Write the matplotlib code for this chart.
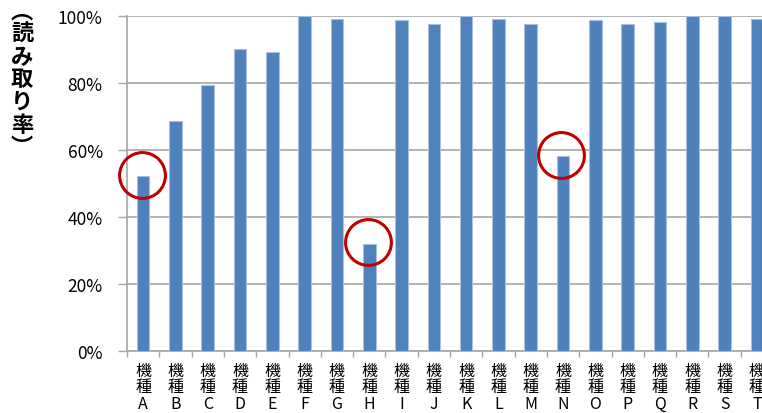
import matplotlib
matplotlib.use("Agg")
import matplotlib.pyplot as plt
from matplotlib.ticker import FixedLocator, NullFormatter

plt.rcParams['font.family'] = ['Noto Sans CJK JP', 'DejaVu Sans']

# Read rate (%) per device model
models = list("ABCDEFGHIJKLMNOPQRST")
read_rate = [52, 68.5, 79.2, 90.1, 89.1, 100, 99.0, 32, 98.6, 97.4,
             100, 99.0, 97.4, 58, 98.6, 97.4, 98.2, 100, 100, 99.0]
highlighted = ["A", "H", "N"]
y_ticks = [0, 20, 40, 60, 80, 100]
tick_labels = ["機\n種\n" + m for m in models]
y_label = "︵読み取り率︶"

W, H = 762, 414
fig = plt.figure(figsize=(W / 100, H / 100), dpi=100)
left, right, top, bottom = 127, 773, 16.7, 351.7
ax = fig.add_axes([left / W, 1 - bottom / H, (right - left) / W, (bottom - top) / H])

x = list(range(len(models)))
ax.bar(x, read_rate, width=0.39, color="#4F81BD", edgecolor="#A7C0E0",
       linewidth=0.8, zorder=3)

ax.set_xlim(-0.5, len(models) - 0.5)
ax.set_ylim(0, 100)

grid_c = "#A6A6A6"
ax.set_yticks(y_ticks)
ax.set_yticklabels([f"{v}%" for v in y_ticks])
ax.yaxis.grid(True, color=grid_c, linewidth=1.2, zorder=0)
ax.set_axisbelow(True)

# category boundaries carry the tick marks, centers carry the labels
ax.xaxis.set_major_locator(FixedLocator([i - 0.5 for i in range(len(models) + 1)]))
ax.xaxis.set_major_formatter(NullFormatter())
ax.xaxis.set_minor_locator(FixedLocator(x))
ax.set_xticklabels(tick_labels, minor=True, fontsize=11.5, linespacing=0.95,
                   va="top")
ax.tick_params(axis="x", which="major", length=4.5, width=1, color=grid_c,
               direction="out")
ax.tick_params(axis="x", which="minor", length=0, pad=8)
ax.tick_params(axis="y", length=6.5, width=1, color=grid_c, pad=11,
               labelsize=12.5)

for side in ("top", "right"):
    ax.spines[side].set_visible(False)
for side in ("left", "bottom"):
    ax.spines[side].set_color(grid_c)
    ax.spines[side].set_linewidth(1.2)

# red rings around the low-scoring models
for m in highlighted:
    i = models.index(m)
    ax.plot(i - 0.05, read_rate[i] + 0.3, "o", ms=33, mfc="none",
            mec="#C00000", mew=2.2, zorder=5, clip_on=False)

fig.text(22 / W, 1 - 80 / H, "\n".join(y_label), fontsize=16, fontweight="bold",
         ha="center", va="center", linespacing=0.98)

fig.savefig("out.png", dpi=100)
